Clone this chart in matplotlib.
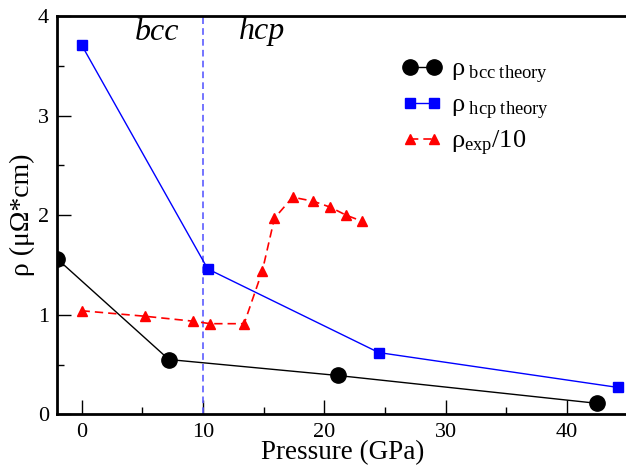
import matplotlib
matplotlib.use("Agg")
import matplotlib.pyplot as plt
from matplotlib.ticker import MultipleLocator

# Data
bcc_p = [-2.0, 7.2, 21.1, 42.5]
bcc_rho = [1.56, 0.55, 0.39, 0.11]

hcp_p = [0.0, 10.4, 24.5, 44.2]
hcp_rho = [3.71, 1.46, 0.62, 0.27]

exp_p = [0.0, 5.2, 9.2, 10.6, 13.4, 14.9, 15.9, 17.4, 19.1, 20.5, 21.8, 23.1]
exp_rho = [1.04, 0.985, 0.935, 0.91, 0.91, 1.44, 1.97, 2.18, 2.14, 2.08, 2.0, 1.94]

transition_p = 10.0

plt.rcParams['font.family'] = ['Liberation Serif', 'DejaVu Serif']
plt.rcParams['mathtext.fontset'] = 'custom'
plt.rcParams['mathtext.rm'] = 'Liberation Serif'
plt.rcParams['mathtext.it'] = 'Liberation Serif:italic'

W, H = 626, 466
fig = plt.figure(figsize=(W / 100, H / 100), dpi=100)
left, right, top, bottom = 57.3, 627.5, 16.0, 414.3
ax = fig.add_axes([left / W, 1 - bottom / H, (right - left) / W, (bottom - top) / H])

ax.plot(bcc_p, bcc_rho, color='black', lw=1.0, marker='o', ms=11,
        label=r'ρ$_{\rm\ bcc\ theory}$', zorder=3)
ax.plot(hcp_p, hcp_rho, color='#0000ff', lw=1.0, marker='s', ms=7.5,
        label=r'ρ$_{\rm\ hcp\ theory}$', zorder=3)
ax.plot(exp_p, exp_rho, color='#ff0000', lw=1.2, ls=(0, (5, 3)), marker='^', ms=7,
        label=r'ρ$_{\rm exp}$/10', zorder=3)

ax.axvline(transition_p, color='#5c5cff', lw=1.2, ls=(0, (4, 2.5)), zorder=2)

ax.set_xlim(-2, 45)
ax.set_ylim(0, 4)
ax.xaxis.set_major_locator(MultipleLocator(10))
ax.xaxis.set_minor_locator(MultipleLocator(5))
ax.yaxis.set_major_locator(MultipleLocator(1))
ax.yaxis.set_minor_locator(MultipleLocator(0.5))
ax.tick_params(which='both', direction='in', top=False, right=False, labelsize=16, width=1)
ax.tick_params(which='major', length=10, pad=6)
ax.tick_params(which='minor', length=5)
for s in ax.spines.values():
    s.set_linewidth(2)

ax.set_xlabel('Pressure (GPa)', fontsize=19.5, labelpad=-1)
ax.set_ylabel('ρ (μΩ*cm)', fontsize=20, labelpad=2)

fig.text(157 / W, 1 - 32 / H, 'bcc', fontsize=23, style='italic', ha='center', va='center')
fig.text(262 / W, 1 - 32 / H, 'hcp', fontsize=23, style='italic', ha='center', va='center')

leg = ax.legend(loc='upper left', bbox_to_anchor=(402 / W, 1 - 58 / H), bbox_transform=fig.transFigure,
                frameon=False, fontsize=19, numpoints=2, handlelength=1.5, handletextpad=0.35,
                labelspacing=0.28, borderpad=0, borderaxespad=0)

fig.savefig('out.png', dpi=100)
